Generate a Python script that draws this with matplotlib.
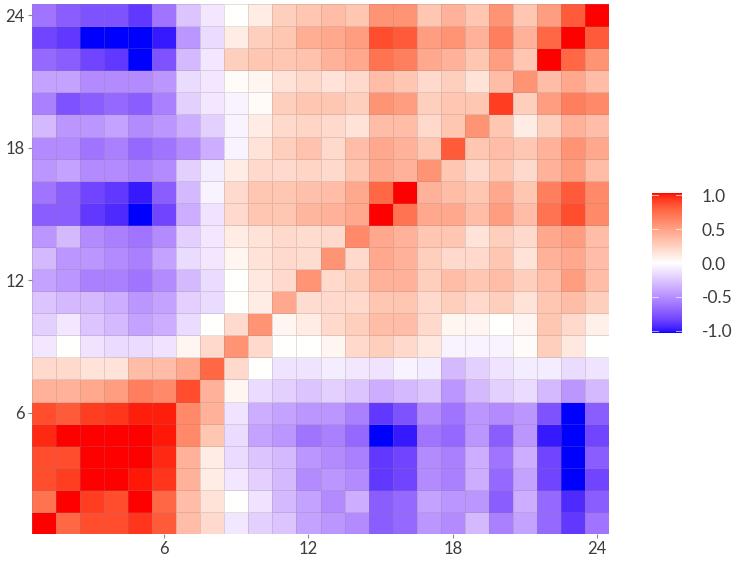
import numpy as np
import matplotlib
matplotlib.use("Agg")
import matplotlib.pyplot as plt
from matplotlib.colors import ListedColormap, Normalize
from matplotlib.cm import ScalarMappable

# ---- data: one list per row (y = 1 .. 24), columns x = 1 .. 24 ----
row_01 = [1.0,0.75,0.85,0.85,0.92,0.8,0.35,0.2,-0.1,-0.2,-0.25,-0.4,-0.45,-0.5,-0.7,-0.65,-0.45,-0.5,-0.3,-0.55,-0.4,-0.65,-0.85,-0.6]
row_02 = [0.7,1.0,0.9,0.85,1.0,0.75,0.35,0.15,0.0,-0.12,-0.3,-0.4,-0.5,-0.35,-0.7,-0.65,-0.4,-0.45,-0.45,-0.7,-0.35,-0.65,-0.9,-0.7]
row_03 = [0.85,0.9,1.0,1.0,0.98,0.92,0.4,0.1,-0.1,-0.2,-0.3,-0.5,-0.45,-0.5,-0.85,-0.8,-0.5,-0.55,-0.35,-0.65,-0.4,-0.8,-1.0,-0.8]
row_04 = [0.85,0.85,1.0,1.0,1.0,0.95,0.4,0.1,-0.15,-0.25,-0.3,-0.45,-0.5,-0.55,-0.85,-0.8,-0.5,-0.55,-0.35,-0.6,-0.35,-0.8,-1.0,-0.7]
row_05 = [0.95,1.0,1.0,1.0,1.0,0.98,0.6,0.3,-0.15,-0.4,-0.45,-0.6,-0.55,-0.65,-1.0,-0.95,-0.6,-0.65,-0.45,-0.7,-0.45,-0.95,-1.0,-0.8]
row_06 = [0.85,0.8,0.9,0.92,0.97,0.97,0.6,0.4,-0.12,-0.35,-0.4,-0.45,-0.45,-0.55,-0.85,-0.75,-0.5,-0.6,-0.45,-0.5,-0.45,-0.75,-1.0,-0.7]
row_07 = [0.4,0.4,0.45,0.5,0.65,0.6,0.85,0.4,0.05,-0.15,-0.2,-0.25,-0.2,-0.25,-0.35,-0.3,-0.25,-0.45,-0.3,-0.2,-0.15,-0.3,-0.45,-0.3]
row_08 = [0.2,0.2,0.15,0.15,0.35,0.35,0.45,0.75,0.2,0.0,-0.12,-0.12,-0.08,-0.1,-0.12,-0.05,-0.08,-0.3,-0.2,-0.12,-0.08,-0.08,-0.15,-0.12]
row_09 = [-0.1,0.0,-0.12,-0.15,-0.15,-0.12,0.05,0.2,0.55,0.2,0.0,0.0,0.05,0.2,0.25,0.2,0.12,-0.05,-0.05,-0.05,0.02,0.25,0.12,0.0]
row_10 = [-0.2,-0.1,-0.25,-0.3,-0.4,-0.35,-0.15,0.0,0.2,0.55,0.05,0.1,0.2,0.25,0.35,0.35,0.2,0.05,0.05,0.0,0.05,0.3,0.2,0.08]
row_11 = [-0.25,-0.3,-0.3,-0.35,-0.45,-0.4,-0.2,-0.15,0.0,0.1,0.45,0.18,0.2,0.2,0.3,0.3,0.2,0.25,0.2,0.25,0.15,0.3,0.35,0.25]
row_12 = [-0.4,-0.45,-0.55,-0.55,-0.6,-0.5,-0.3,-0.15,0.0,0.12,0.2,0.55,0.2,0.25,0.4,0.4,0.25,0.35,0.3,0.35,0.25,0.35,0.5,0.35]
row_13 = [-0.3,-0.45,-0.45,-0.5,-0.55,-0.4,-0.15,-0.1,0.05,0.15,0.2,0.18,0.55,0.2,0.45,0.4,0.25,0.2,0.2,0.3,0.15,0.4,0.45,0.35]
row_14 = [-0.45,-0.3,-0.5,-0.55,-0.6,-0.5,-0.2,-0.1,0.1,0.15,0.2,0.18,0.2,0.6,0.45,0.4,0.3,0.3,0.15,0.25,0.2,0.45,0.5,0.35]
row_15 = [-0.7,-0.7,-0.85,-0.9,-1.0,-0.8,-0.35,-0.12,0.2,0.3,0.3,0.38,0.4,0.45,1.0,0.7,0.45,0.45,0.35,0.5,0.35,0.7,0.85,0.6]
row_16 = [-0.6,-0.7,-0.8,-0.85,-0.95,-0.7,-0.3,-0.05,0.2,0.3,0.3,0.33,0.35,0.45,0.75,1.0,0.4,0.35,0.3,0.45,0.3,0.65,0.8,0.6]
row_17 = [-0.45,-0.4,-0.5,-0.5,-0.55,-0.5,-0.2,-0.08,0.1,0.2,0.2,0.22,0.2,0.3,0.45,0.4,0.55,0.3,0.2,0.3,0.2,0.4,0.5,0.35]
row_18 = [-0.5,-0.5,-0.6,-0.55,-0.65,-0.6,-0.5,-0.35,-0.05,0.15,0.25,0.32,0.2,0.35,0.45,0.4,0.3,0.8,0.3,0.35,0.3,0.4,0.55,0.45]
row_19 = [-0.3,-0.45,-0.45,-0.4,-0.5,-0.45,-0.35,-0.2,-0.05,0.1,0.2,0.22,0.2,0.15,0.35,0.35,0.2,0.3,0.55,0.3,0.1,0.25,0.4,0.35]
row_20 = [-0.55,-0.75,-0.7,-0.65,-0.7,-0.55,-0.2,-0.1,-0.05,0.02,0.25,0.3,0.3,0.25,0.55,0.5,0.25,0.3,0.3,0.9,0.25,0.5,0.65,0.6]
row_21 = [-0.4,-0.4,-0.5,-0.5,-0.5,-0.45,-0.15,-0.1,0.02,0.05,0.15,0.2,0.15,0.2,0.35,0.3,0.2,0.25,0.15,0.35,0.55,0.35,0.45,0.35]
row_22 = [-0.65,-0.7,-0.8,-0.85,-1.0,-0.75,-0.3,-0.1,0.25,0.3,0.3,0.32,0.4,0.45,0.7,0.65,0.45,0.4,0.3,0.5,0.3,1.0,0.75,0.55]
row_23 = [-0.8,-0.85,-1.0,-1.0,-1.0,-0.95,-0.45,-0.15,0.1,0.25,0.3,0.42,0.45,0.5,0.85,0.8,0.5,0.55,0.4,0.65,0.4,0.75,1.0,0.8]
row_24 = [-0.6,-0.7,-0.75,-0.75,-0.85,-0.6,-0.25,-0.1,0.0,0.1,0.25,0.3,0.35,0.3,0.55,0.55,0.3,0.4,0.3,0.55,0.3,0.5,0.8,1.0]

axis_ticks = [6, 12, 18, 24]
cbar_ticks = [-1.0, -0.5, 0.0, 0.5, 1.0]
cbar_labels = ["-1.0", "-0.5", "0.0", "0.5", "1.0"]

rows = [row_01, row_02, row_03, row_04, row_05, row_06, row_07, row_08,
        row_09, row_10, row_11, row_12, row_13, row_14, row_15, row_16,
        row_17, row_18, row_19, row_20, row_21, row_22, row_23, row_24]
Z = np.array(rows)

# ---- ggplot-like gradient2 (Lab interpolation) ----
def srgb_to_lab(rgb):
    rgb = np.asarray(rgb, float)
    lin = np.where(rgb <= 0.04045, rgb / 12.92, ((rgb + 0.055) / 1.055) ** 2.4)
    M = np.array([[0.4124564, 0.3575761, 0.1804375],
                  [0.2126729, 0.7151522, 0.0721750],
                  [0.0193339, 0.1191920, 0.9503041]])
    xyz = M @ lin
    wp = np.array([0.95047, 1.0, 1.08883])
    t = xyz / wp
    f = np.where(t > (6/29)**3, np.cbrt(t), t / (3*(6/29)**2) + 4/29)
    return np.array([116*f[1]-16, 500*(f[0]-f[1]), 200*(f[1]-f[2])])

def lab_to_srgb(lab):
    L, a, b = lab
    fy = (L + 16) / 116
    fx = fy + a / 500
    fz = fy - b / 200
    d = 6/29
    def finv(f):
        return np.where(f > d, f**3, 3*d*d*(f - 4/29))
    wp = np.array([0.95047, 1.0, 1.08883])
    xyz = np.array([finv(fx), finv(fy), finv(fz)]) * wp
    Minv = np.array([[3.2404542, -1.5371385, -0.4985314],
                     [-0.9692660, 1.8760108, 0.0415560],
                     [0.0556434, -0.2040259, 1.0572252]])
    lin = Minv @ xyz
    lin = np.clip(lin, 0, 1)
    srgb = np.where(lin <= 0.0031308, 12.92*lin, 1.055*lin**(1/2.4) - 0.055)
    return np.clip(srgb, 0, 1)

lab_blue = srgb_to_lab([0, 0, 1])
lab_white = srgb_to_lab([1, 1, 1])
lab_red = srgb_to_lab([1, 0, 0])
cols = []
for v in np.linspace(-1, 1, 512):
    if v < 0:
        lab = lab_white + (lab_blue - lab_white) * (-v)
    else:
        lab = lab_white + (lab_red - lab_white) * v
    cols.append(lab_to_srgb(lab))
cmap = ListedColormap(cols)

plt.rcParams['font.family'] = ['Lato', 'DejaVu Sans']
txt_color = '#3c3c3c'

fig = plt.figure(figsize=(7.41, 5.62), dpi=100)
ax = fig.add_axes([32/741, 1-534/562, 577/741, 530/562])
norm = Normalize(vmin=-1.0, vmax=1.0)
n = Z.shape[0]
edges = np.arange(0.5, n + 1.5, 1.0)
mesh = ax.pcolormesh(edges, edges, Z, cmap=cmap, norm=norm,
                     edgecolors=(0.55, 0.5, 0.5, 0.25), linewidth=0.6)
ax.set_xlim(0.5, n + 0.5)
ax.set_ylim(0.5, n + 0.5)
ax.set_xticks(axis_ticks)
ax.set_yticks(axis_ticks)
ax.set_xticklabels([str(t) for t in axis_ticks])
ax.set_yticklabels([str(t) for t in axis_ticks])
for s in ax.spines.values():
    s.set_visible(False)
ax.tick_params(axis='both', length=2.6, width=0.8, color='#888888',
               labelsize=12, labelcolor=txt_color, pad=2.5)

cax = fig.add_axes([652/741, 1-333/562, 30/741, 140/562])
sm = ScalarMappable(norm=Normalize(vmin=-1.03, vmax=1.03), cmap=cmap)
cb = fig.colorbar(sm, cax=cax, ticks=cbar_ticks)
cb.outline.set_visible(False)
cb.ax.set_yticklabels(cbar_labels)
cb.ax.tick_params(length=0, labelsize=12.5, labelcolor=txt_color, pad=14)
for t in cbar_ticks:
    cax.plot([0, 0.2], [t, t], color='white', lw=0.8, alpha=0.6, transform=cax.get_yaxis_transform())
    cax.plot([0.8, 1.0], [t, t], color='white', lw=0.8, alpha=0.6, transform=cax.get_yaxis_transform())

fig.savefig("out.png", dpi=100)
